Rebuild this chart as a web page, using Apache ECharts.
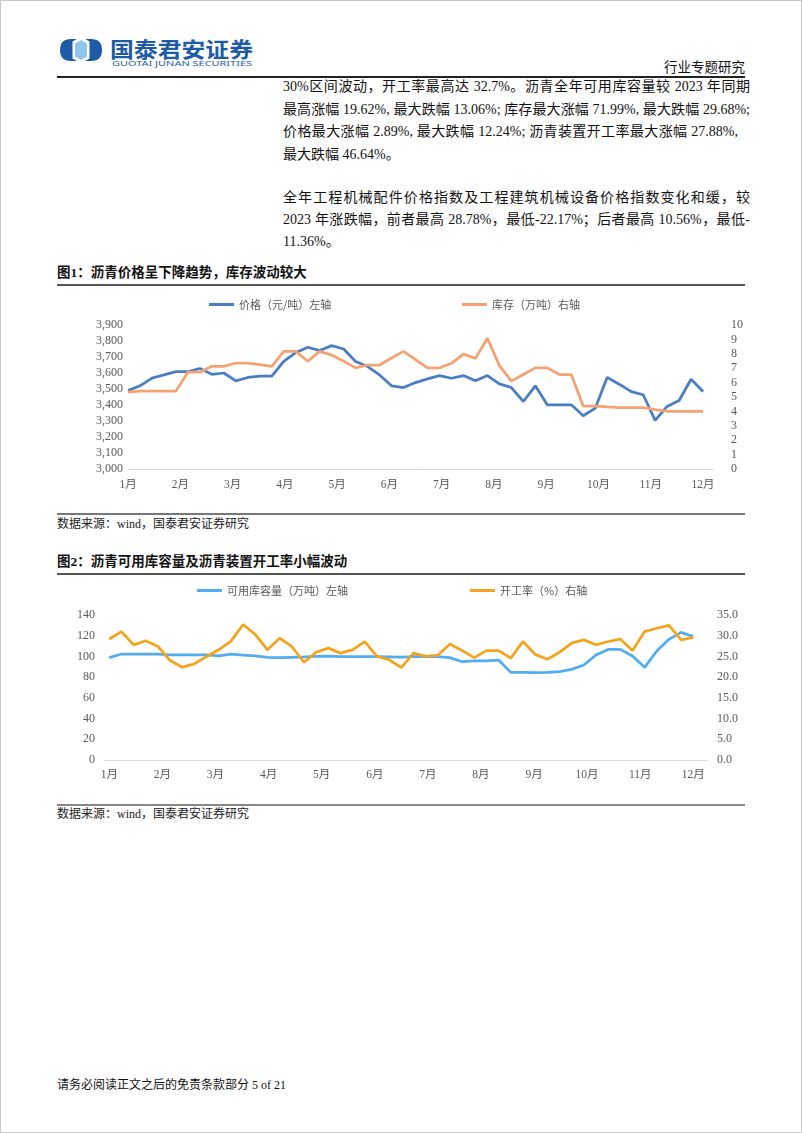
<!DOCTYPE html>
<html>
<head>
<meta charset="utf-8">
<script src="https://cdn.jsdelivr.net/npm/echarts@6/dist/echarts.min.js"></script>
<style>
html,body{margin:0;padding:0;background:#fff;}
#page{position:relative;width:802px;height:1133px;overflow:hidden;font-family:"Liberation Serif","Noto Sans CJK SC",serif;color:#111;}
#frame{position:absolute;left:0;top:0;width:802px;height:1133px;box-sizing:border-box;border:1px solid #c8c8c8;pointer-events:none;}
.abs{position:absolute;white-space:nowrap;}
.tl{position:absolute;left:283px;width:467px;font-size:14px;line-height:20px;height:20px;white-space:nowrap;text-align:justify;text-align-last:justify;}
.tl.last{text-align-last:left;}
.rule{position:absolute;left:57px;width:688px;}
.ftitle{position:absolute;left:57px;font-size:13.5px;font-weight:bold;line-height:20px;}
.src{position:absolute;left:57px;font-size:12px;line-height:16px;color:#222;}
#chart{position:absolute;left:0;top:0;width:802px;height:1133px;}
</style>
</head>
<body>
<div id="page">
  <svg class="abs" style="left:0;top:0" width="320" height="80">
    <path d="M71,39 L91,39 Q102,39 102,50 Q102,61 91,61 L71,61 Q60,61 60,50 Q60,39 71,39Z" fill="#1d5ba6"/>
    <polygon points="81,36.5 89.5,41.5 89.5,58.5 81,63.5 72.5,58.5 72.5,41.5" fill="#ffffff"/>
    <polygon points="81,40 87,43.5 87,56.5 81,60 75,56.5 75,43.5" fill="#8ec5ec"/>
    <text x="110" y="56.5" font-size="21" font-weight="bold" fill="#1d5ba6" font-family="Noto Sans CJK SC" textLength="143" lengthAdjust="spacingAndGlyphs">国泰君安证券</text>
    <text x="112" y="66" font-size="7.8" fill="#1d5ba6" font-family="Noto Sans, sans-serif" textLength="140" lengthAdjust="spacingAndGlyphs">GUOTAI JUNAN SECURITIES</text>
  </svg>
  <div class="abs" style="right:57px;top:59px;font-size:13.5px;line-height:18px;">行业专题研究</div>
  <div class="rule" style="top:76px;height:2px;background:#222;"></div>

  <div class="tl" style="top:77px;">30%区间波动，开工率最高达 32.7%。沥青全年可用库容量较 2023 年同期</div>
  <div class="tl" style="top:100px;">最高涨幅 19.62%, 最大跌幅 13.06%; 库存最大涨幅 71.99%, 最大跌幅 29.68%;</div>
  <div class="tl" style="top:122px;width:455px;">价格最大涨幅 2.89%, 最大跌幅 12.24%; 沥青装置开工率最大涨幅 27.88%,</div>
  <div class="tl last" style="top:145px;">最大跌幅 46.64%。</div>
  <div class="tl" style="top:188px;">全年工程机械配件价格指数及工程建筑机械设备价格指数变化和缓，较</div>
  <div class="tl" style="top:210px;">2023 年涨跌幅，前者最高 28.78%，最低-22.17%；后者最高 10.56%，最低-</div>
  <div class="tl last" style="top:232px;">11.36%。</div>

  <div class="ftitle" style="top:263px;">图1：沥青价格呈下降趋势，库存波动较大</div>
  <div class="rule" style="top:284px;height:2px;background:#555;"></div>
  <div class="rule" style="top:513px;height:2px;background:#777;"></div>
  <div class="src" style="top:516px;">数据来源：wind，国泰君安证券研究</div>

  <div class="ftitle" style="top:552px;">图2：沥青可用库容量及沥青装置开工率小幅波动</div>
  <div class="rule" style="top:573px;height:2px;background:#555;"></div>
  <div class="rule" style="top:804px;height:1.5px;background:#888;"></div>
  <div class="src" style="top:806px;">数据来源：wind，国泰君安证券研究</div>

  <div class="src" style="top:1077px;color:#111;">请务必阅读正文之后的免责条款部分 5 of 21</div>

  <div id="chart"></div>
  <div id="frame"></div>
</div>
<script>
// ---- data ----
const months = ['1月','2月','3月','4月','5月','6月','7月','8月','9月','10月','11月','12月'];

// Figure 1: asphalt price (元/吨, left axis) and inventory (万吨, right axis), weekly
const priceData = [3490,3520,3568,3588,3609,3609,3628,3592,3600,3551,
                   3572,3580,3580,3672,3727,3761,3740,3771,3750,3672,
                   3640,3588,3520,3509,3540,3563,3584,3567,3584,3551,
                   3584,3532,3509,3422,3520,3401,3401,3401,3333,3380,
                   3573,3530,3484,3464,3304,3391,3428,3561,3484];
const invData = [5.34,5.41,5.41,5.41,5.41,6.72,6.72,7.13,7.13,7.36,
                 7.36,7.25,7.13,8.17,8.17,7.48,8.17,7.91,7.48,7.02,
                 7.22,7.22,7.71,8.17,7.59,7.02,7.02,7.34,7.98,7.68,
                 9.08,7.18,6.10,6.56,7.02,7.02,6.56,6.56,4.36,4.36,
                 4.31,4.27,4.27,4.27,4.13,4.01,4.01,4.01,4.01];

// Figure 2: available storage capacity (万吨, left axis) and operating rate (%, right axis), weekly
const capData = [98.8,102.3,102.3,102.3,102.3,101.5,101.4,101.4,101.4,100.5,
                 102.3,101.2,100.5,99.0,98.8,99.2,99.5,100.0,100.2,99.8,
                 99.8,99.8,99.8,99.6,99.4,99.8,99.8,99.8,98.8,94.9,
                 95.6,95.6,96.5,84.6,84.6,84.3,84.6,85.3,87.5,91.7,
                 101.4,106.8,106.8,100.4,89.5,105.2,116.5,123.2,119.1];
const rateData = [29.2,31.0,27.8,28.8,27.4,24.0,22.4,23.2,25.0,26.6,
                  28.7,32.7,30.3,26.6,29.4,27.4,23.6,26.0,27.0,25.8,
                  26.6,28.6,25.0,24.2,22.3,25.8,25.0,25.3,28.0,26.4,
                  24.7,26.4,26.4,24.6,28.6,25.5,24.3,26.0,28.2,29.0,
                  27.8,28.6,29.2,26.4,31.0,31.8,32.5,29.0,29.6];

const names1 = ['价格（元/吨）左轴','库存（万吨）右轴'];
const names2 = ['可用库容量（万吨）左轴','开工率（%）右轴'];

// ---- chart ----
const toPts = arr => arr.map((v,i)=>[i*(months.length-1)/(arr.length-1), v]);
const labelFont = '"Liberation Serif","Noto Sans CJK SC",serif';
const axLab = {color:'#595959', fontSize:12, fontFamily:labelFont};
const monthIdx = months.map((m,i)=>i);

function xAx(grid, min, max, margin){
  return {type:'value', gridIndex:grid, min:min, max:max,
    axisLine:{show:true, onZero:false, lineStyle:{color:'#d9d9d9', width:1}},
    axisTick:{show:false}, splitLine:{show:false},
    axisLabel:Object.assign({}, axLab, {fontSize:11.5, margin:margin, customValues:monthIdx,
      formatter:v=>months[Math.round(v)] || ''})};
}
function yAx(grid, pos, min, max, interval, margin, align, fmt){
  return {type:'value', gridIndex:grid, position:pos, min:min, max:max, interval:interval,
    axisLine:{show:false}, axisTick:{show:false}, splitLine:{show:false},
    axisLabel:Object.assign({}, axLab, {margin:margin, align:align, formatter:fmt})};
}
function lg(name, left, top){
  return {data:[name], left:left, top:top, padding:0, icon:'rect', itemWidth:25, itemHeight:3,
    selectedMode:false, textStyle:{color:'#595959', fontSize:11, fontFamily:'"Noto Sans CJK SC",sans-serif'}};
}
function ser(name, data, xi, yi, color){
  return {name:name, type:'line', xAxisIndex:xi, yAxisIndex:yi, data:toPts(data),
    showSymbol:false, symbol:'none', lineStyle:{color:color, width:2.75}, itemStyle:{color:color}};
}

const chart = echarts.init(document.getElementById('chart'), null, {renderer:'canvas'});
chart.setOption({
  animation:false,
  backgroundColor:'transparent',
  grid:[{left:128, top:325, width:585, height:144},
        {left:105, top:615, width:602, height:145}],
  xAxis:[xAx(0, 0, 11.19, 10), xAx(1, -0.081, 11.258, 9)],
  yAxis:[
    yAx(0,'left',3000,3900,100,5,'right', v=>v.toLocaleString('en-US')),
    yAx(0,'right',0,10,1,18,'left', v=>String(v)),
    yAx(1,'left',0,140,20,10,'right', v=>String(v)),
    yAx(1,'right',0,35,5,10,'left', v=>v.toFixed(1))
  ],
  legend:[lg(names1[0],209,299), lg(names1[1],462,299), lg(names2[0],197,585), lg(names2[1],470,585)],
  series:[
    ser(names1[0], priceData, 0, 0, '#4a7ec4'),
    ser(names1[1], invData, 0, 1, '#f5a273'),
    ser(names2[0], capData, 1, 2, '#52adf0'),
    ser(names2[1], rateData, 1, 3, '#f4a31c')
  ]
});
</script>
</body>
</html>
